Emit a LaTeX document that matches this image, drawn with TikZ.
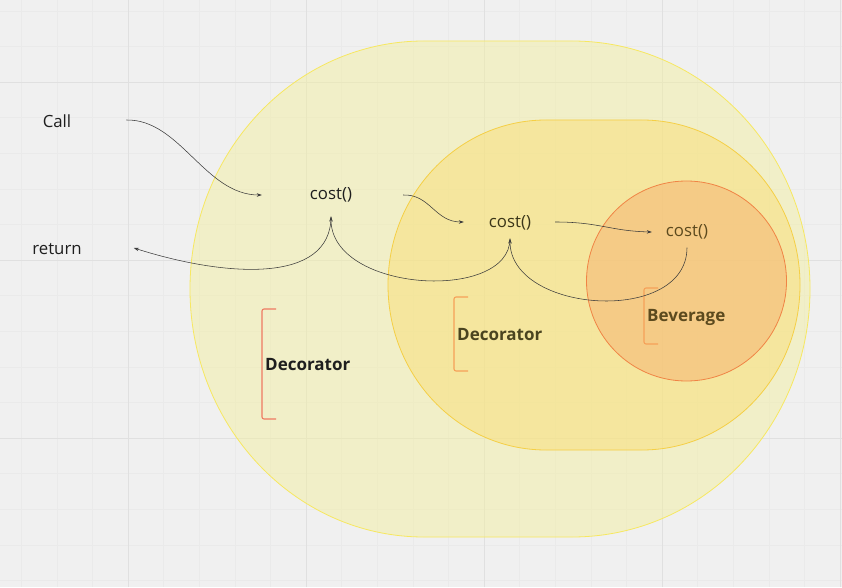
\documentclass[tikz,border=0pt]{standalone}
\usepackage{fontspec}
\setmainfont{Open Sans}
\usetikzlibrary{arrows.meta,calc}
\definecolor{bg}{HTML}{F0F0F0}
\definecolor{gridminor}{HTML}{EAEAEA}
\definecolor{gridmajor}{HTML}{E0E0E0}
\definecolor{outerfill}{HTML}{F3EFA2}
\definecolor{outerline}{HTML}{F7E860}
\definecolor{midfill}{HTML}{F9DF76}
\definecolor{midline}{HTML}{F5CF45}
\definecolor{innerfill}{HTML}{F5B270}
\definecolor{innerline}{HTML}{F08445}
\definecolor{brackA}{HTML}{EE7A62}
\definecolor{brackB}{HTML}{F5A058}
\definecolor{txtA}{HTML}{1E1E1E}
\definecolor{txtB}{HTML}{4A4420}
\definecolor{txtC}{HTML}{5C4A1E}
\definecolor{conn}{HTML}{3C3C3C}
\begin{document}
\begin{tikzpicture}[x=1pt,y=1pt,
  minorgrid/.style={draw=gridminor,line width=0.5pt},
  majorgrid/.style={draw=gridmajor,line width=0.8pt},
  blob/.style={line width=0.8pt,fill opacity=0.5},
  lbl/.style={font=\fontsize{16.8}{19}\selectfont,inner sep=0pt},
  blbl/.style={font=\bfseries\fontsize{17}{19}\selectfont,inner sep=0pt,anchor=west},
  brack/.style={line width=1.1pt,rounded corners=2pt},
  conn/.style={draw=conn,line width=0.55pt,-{Stealth[length=5pt,width=3.5pt]}}]
\useasboundingbox (0,0) rectangle (842,587);
\fill[bg] (0,0) rectangle (842,587);
% grid
\foreach \k in {-3,...,20} \draw[minorgrid] ({128+\k*35.6},0) -- ++(0,587);
\foreach \k in {-2,...,16} \draw[minorgrid] (0,{505-\k*35.6}) -- ++(842,0);
\foreach \k in {0,5,10,15,20} \draw[majorgrid] ({128+\k*35.6},0) -- ++(0,587);
\foreach \k in {0,5,10} \draw[majorgrid] (0,{505-\k*35.6}) -- ++(842,0);
% shapes
\filldraw[blob,fill=outerfill,draw=outerline] (424,546) -- (572,546)
  arc[start angle=90,end angle=-90,x radius=238,y radius=248] -- (424,50)
  arc[start angle=270,end angle=90,x radius=234,y radius=248] -- cycle;
\filldraw[blob,fill=midfill,draw=midline] (546,467) -- (642,467)
  arc[start angle=90,end angle=-90,x radius=158,y radius=165] -- (546,137)
  arc[start angle=270,end angle=90,x radius=158,y radius=165] -- cycle;
\filldraw[blob,fill=innerfill,draw=innerline] (686.5,306) circle[radius=100];
% brackets
\draw[brack,draw=brackA] (276,278) -- (262,278) -- (262,168) -- (276,168);
\draw[brack,draw=brackB] (468,290) -- (454,290) -- (454,216) -- (468,216);
\draw[brack,draw=brackB] (658,299) -- (644,299) -- (644,243) -- (658,243);
% labels
\node[blbl,text=txtA] (dec1) at (265,222) {Decorator};
\node[blbl,text=txtB] (dec2) at (457,252) {Decorator};
\node[blbl,text=txtC] (bev) at (647,270) {Beverage};
% texts
\node[lbl,text=txtA] (call) at (57,466) {Call};
\node[lbl,text=txtA] (ret) at (57,338) {return};
\node[lbl,text=txtA] (c1) at (331,392) {cost()};
\node[lbl,text=txtB!80!black] (c2) at (510,364) {cost()};
\node[lbl,text=txtC] (c3) at (687,355) {cost()};
% connector end points
\coordinate (callout) at ($(call.east)+(55,1)$);
\coordinate (c1in) at ($(c1.west)+(-48,0)$);
\coordinate (c1out) at ($(c1.east)+(51,0)$);
\coordinate (c1ret) at ($(c1.south)+(0,-14)$);
\coordinate (c2in) at ($(c2.west)+(-25,1)$);
\coordinate (c2out) at ($(c2.east)+(24,1)$);
\coordinate (c2ret) at ($(c2.south)+(0,-8)$);
\coordinate (c3in) at ($(c3.west)+(-14,0)$);
\coordinate (c3ret) at ($(c3.south)+(0,-8)$);
\coordinate (retin) at ($(ret.east)+(52,1)$);
% connectors
\draw[conn] (callout) .. controls (180,468) and (205,392) .. (c1in);
\draw[conn] (c1out) .. controls (430,393) and (435,365) .. (c2in);
\draw[conn] (c2out) .. controls (600,365) and (610,356) .. (c3in);
\draw[conn] (c3ret) .. controls ($(c3ret)+(0,-78)$) and ($(c2ret)+(0,-75)$) .. (c2ret);
\draw[conn] (c2ret) .. controls ($(c2ret)+(0,-64)$) and ($(c1ret)+(0,-76)$) .. (c1ret);
\draw[conn] (c1ret) .. controls ($(c1ret)+(0,-68)$) and (225,310) .. (retin);
\end{tikzpicture}
\end{document}
